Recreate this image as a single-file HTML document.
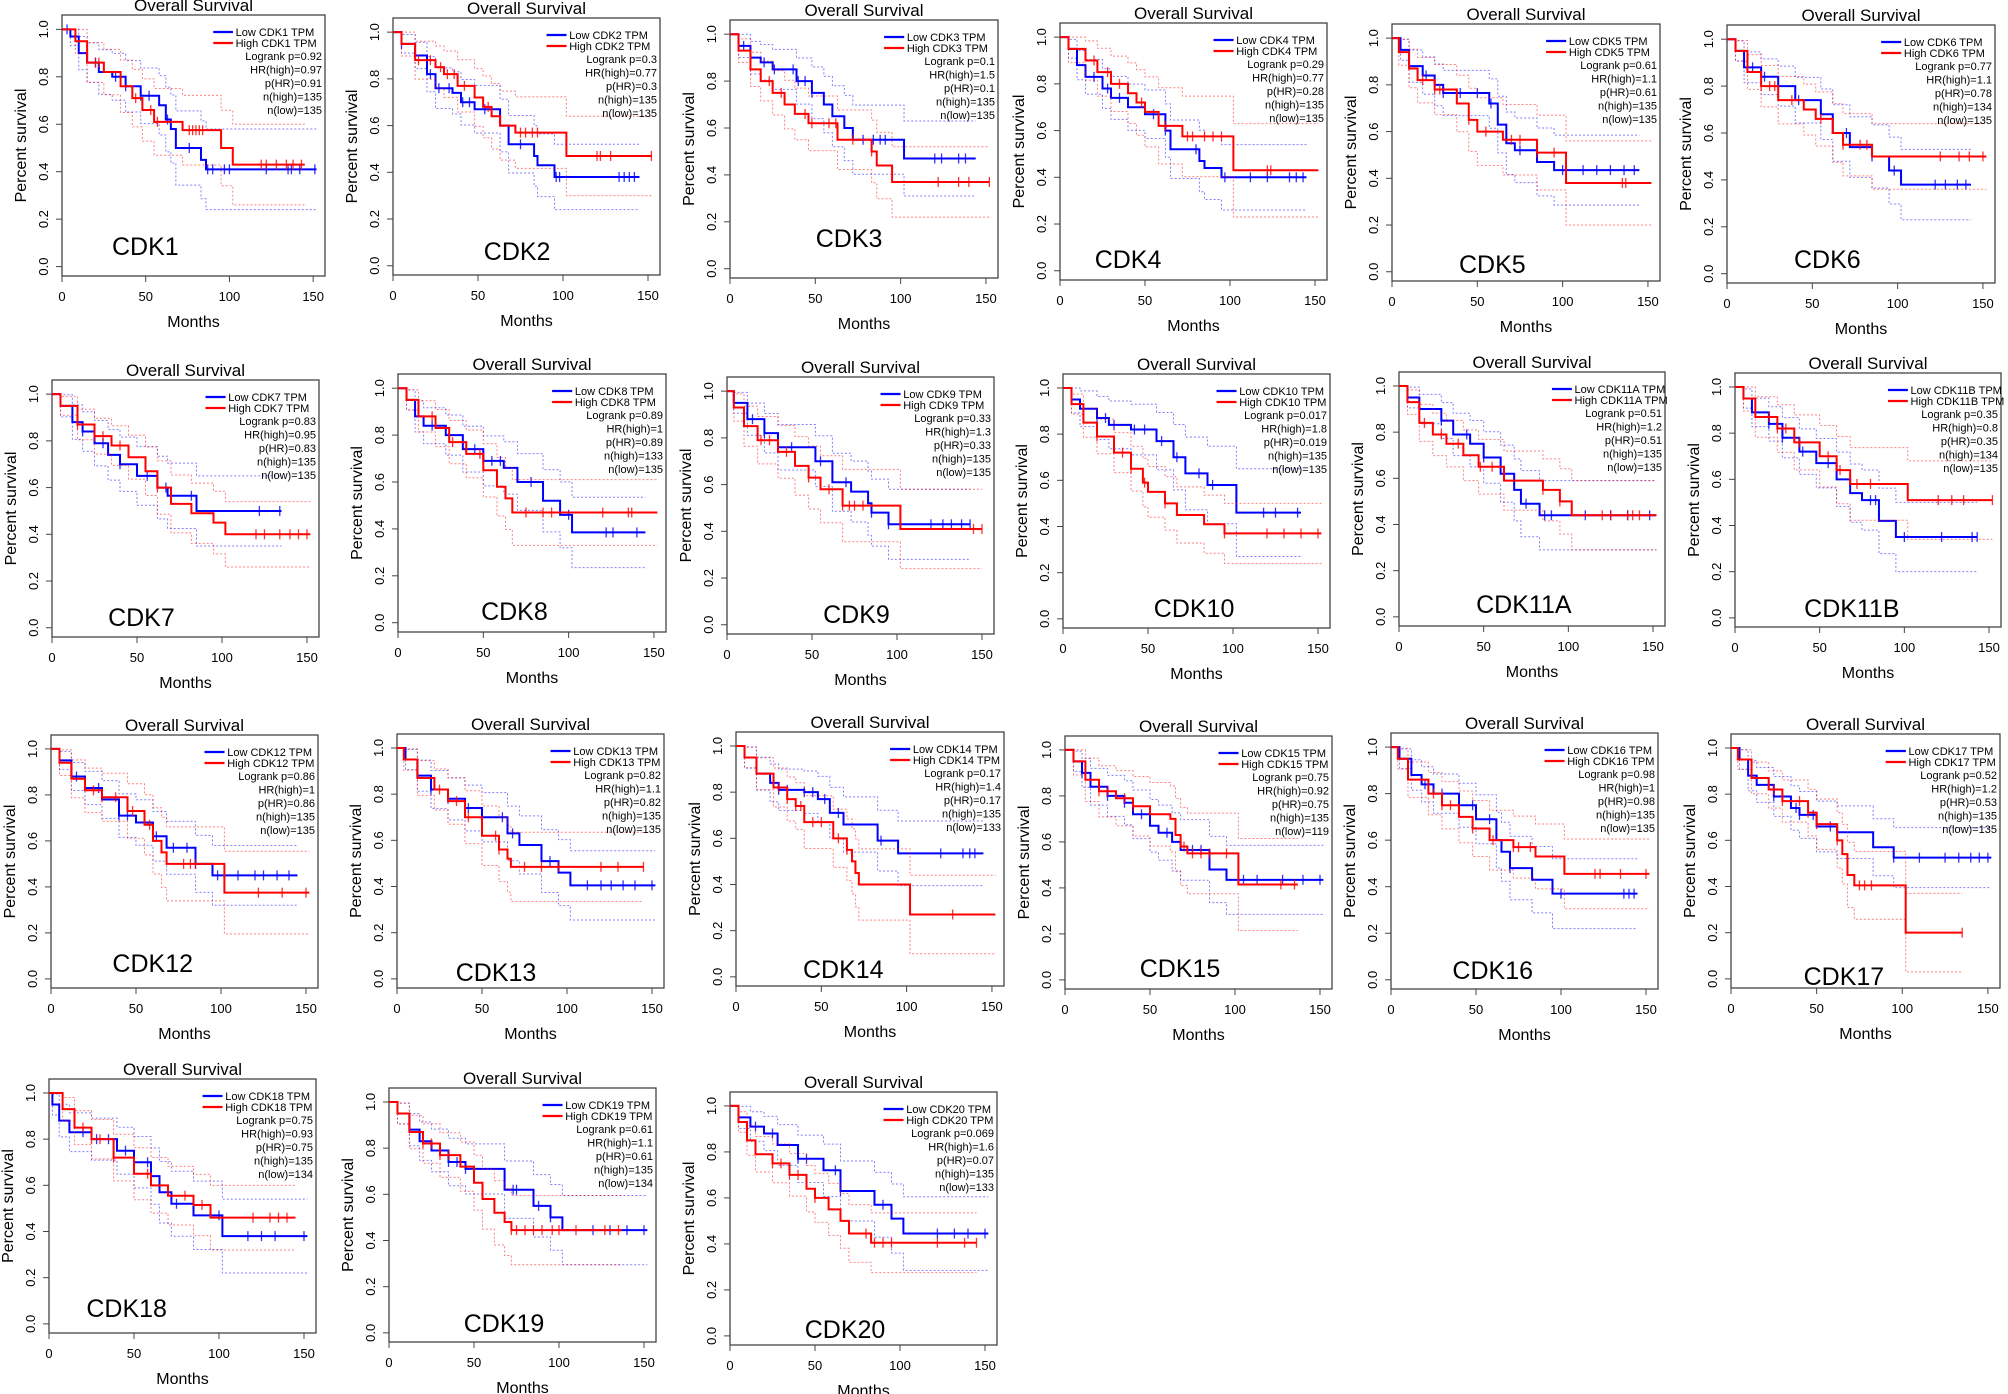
<!DOCTYPE html>
<html><head><meta charset="utf-8">
<style>
html,body{margin:0;padding:0;background:#fff;}
svg{display:block;}
text{font-family:"Liberation Sans",sans-serif;fill:#000;}
.narrow{font-family:"Liberation Sans Narrow","Liberation Sans",sans-serif;}
</style></head>
<body>
<svg id="fig" width="2008" height="1394" viewBox="0 0 2008 1394" xmlns="http://www.w3.org/2000/svg">
<rect x="0" y="0" width="2008" height="1394" fill="#fff"/>
</svg>
<script>
// ---- data ----
const genes = ["CDK1","CDK2","CDK3","CDK4","CDK5","CDK6","CDK7","CDK8","CDK9","CDK10","CDK11A","CDK11B","CDK12","CDK13","CDK14","CDK15","CDK16","CDK17","CDK18","CDK19","CDK20"];
const logrankP = ["0.92","0.3","0.1","0.29","0.61","0.77","0.83","0.89","0.33","0.017","0.51","0.35","0.86","0.82","0.17","0.75","0.98","0.52","0.75","0.61","0.069"];
const hrHigh = ["0.97","0.77","1.5","0.77","1.1","1.1","0.95","1","1.3","1.8","1.2","0.8","1","1.1","1.4","0.92","1","1.2","0.93","1.1","1.6"];
const pHR = ["0.91","0.3","0.1","0.28","0.61","0.78","0.83","0.89","0.33","0.019","0.51","0.35","0.86","0.82","0.17","0.75","0.98","0.53","0.75","0.61","0.07"];
const nHigh = [135,135,135,135,135,134,135,133,135,135,135,134,135,135,135,135,135,135,135,135,135];
const nLow = [135,135,135,135,135,135,135,135,135,135,135,135,135,135,133,119,135,135,134,134,133];

const lowTimes = [
 [5,10,15,22,30,38,47,58,62,65,68,83,86],
 [5,13,20,25,35,40,48,63,68,83,85,95],
 [5,12,18,25,39,48,55,60,67,72,102],
 [5,10,15,25,30,40,50,62,65,82,85,95],
 [5,10,18,25,30,57,62,67,72,85,95],
 [5,10,20,30,40,55,62,72,85,95,102],
 [5,12,18,25,33,40,50,62,68,85],
 [5,10,15,28,38,50,62,70,85,95,102],
 [4,12,22,30,52,62,73,83,85,95],
 [5,10,20,27,40,55,65,72,85,102],
 [5,12,25,32,42,50,60,68,72,83],
 [5,10,20,28,38,48,60,68,75,85,95],
 [5,12,20,30,40,50,60,68,85,95],
 [5,12,20,30,40,50,65,72,85,95,102],
 [5,12,20,25,40,48,55,63,83,95],
 [5,10,15,25,35,40,50,55,63,68,85,95],
 [5,12,18,25,40,50,62,65,70,83,95],
 [5,10,15,25,35,40,50,62,83,95],
 [2,6,12,25,40,50,60,65,72,85,102],
 [5,12,18,25,35,45,68,85,95,102],
 [5,12,20,28,40,55,65,85,95,102]
];
const lowSurv = [
 [0.97,0.9,0.86,0.82,0.8,0.76,0.72,0.68,0.62,0.58,0.5,0.45,0.41],
 [0.95,0.9,0.82,0.76,0.74,0.7,0.67,0.6,0.52,0.47,0.43,0.38],
 [0.95,0.9,0.88,0.85,0.8,0.75,0.7,0.65,0.6,0.55,0.47],
 [0.95,0.88,0.83,0.78,0.74,0.7,0.67,0.6,0.52,0.47,0.44,0.4],
 [0.95,0.88,0.84,0.8,0.765,0.72,0.63,0.55,0.52,0.47,0.435],
 [0.95,0.88,0.84,0.8,0.74,0.68,0.6,0.54,0.5,0.44,0.38],
 [0.95,0.88,0.84,0.79,0.74,0.7,0.65,0.6,0.565,0.5],
 [0.95,0.88,0.84,0.8,0.74,0.69,0.66,0.6,0.52,0.46,0.385],
 [0.95,0.88,0.82,0.76,0.7,0.61,0.57,0.52,0.48,0.43],
 [0.95,0.91,0.87,0.84,0.82,0.77,0.7,0.63,0.58,0.46],
 [0.95,0.9,0.85,0.79,0.75,0.69,0.62,0.55,0.49,0.44],
 [0.95,0.89,0.84,0.78,0.72,0.67,0.6,0.54,0.51,0.42,0.35],
 [0.95,0.88,0.83,0.78,0.71,0.68,0.62,0.57,0.5,0.45],
 [0.95,0.88,0.82,0.78,0.74,0.7,0.63,0.58,0.51,0.46,0.405],
 [0.95,0.88,0.84,0.81,0.8,0.77,0.71,0.66,0.59,0.535],
 [0.95,0.9,0.84,0.8,0.77,0.72,0.67,0.64,0.6,0.565,0.48,0.435],
 [0.95,0.88,0.84,0.8,0.75,0.69,0.6,0.55,0.48,0.43,0.37],
 [0.95,0.88,0.84,0.79,0.74,0.71,0.66,0.635,0.57,0.525],
 [0.95,0.88,0.83,0.8,0.75,0.7,0.64,0.57,0.52,0.47,0.38],
 [0.95,0.88,0.83,0.79,0.74,0.71,0.62,0.55,0.5,0.445],
 [0.95,0.91,0.88,0.83,0.77,0.72,0.63,0.57,0.51,0.445]
];
const lowEnd = [152,145,144,145,145,143,135,145,143,140,152,143,145,152,145,152,145,152,152,152,152];
const highTimes = [
 [8,15,25,35,42,48,55,72,95,102],
 [5,13,25,30,38,48,53,58,63,72,102],
 [5,12,18,25,32,38,46,63,83,86,95],
 [5,15,22,30,40,45,50,58,72,102],
 [4,10,15,25,38,45,50,65,85,102],
 [5,12,20,30,45,52,62,68,85],
 [5,15,25,35,45,55,62,70,82,95,102],
 [5,12,22,30,40,50,58,63,67],
 [4,10,18,30,40,48,55,68,102],
 [5,12,20,30,40,47,50,60,67,83,95],
 [5,12,20,28,38,47,62,85,95,102],
 [5,12,25,35,50,60,68,102],
 [5,12,20,30,45,55,60,65,68,102],
 [4,12,22,30,40,50,60,65,67],
 [5,12,22,30,35,40,57,65,68,70,72,102],
 [5,12,20,30,40,50,62,65,68,72,102],
 [4,10,22,30,40,48,58,72,85,102],
 [4,12,22,30,45,50,62,65,68,72,102],
 [8,15,25,38,50,60,70,85,95],
 [5,12,20,30,42,50,55,62,68,72],
 [5,10,15,25,35,45,50,58,65,70,83]
];
const highSurv = [
 [0.95,0.86,0.82,0.76,0.71,0.66,0.61,0.575,0.5,0.43],
 [0.95,0.88,0.85,0.82,0.77,0.72,0.68,0.64,0.6,0.57,0.47],
 [0.93,0.85,0.8,0.75,0.7,0.66,0.62,0.55,0.5,0.44,0.37],
 [0.95,0.9,0.85,0.8,0.76,0.72,0.68,0.62,0.575,0.43],
 [0.94,0.87,0.82,0.78,0.72,0.65,0.6,0.565,0.51,0.38],
 [0.95,0.86,0.8,0.74,0.7,0.66,0.6,0.55,0.5],
 [0.95,0.87,0.82,0.78,0.73,0.67,0.6,0.53,0.49,0.45,0.4],
 [0.95,0.88,0.83,0.77,0.72,0.65,0.58,0.53,0.47],
 [0.93,0.85,0.79,0.74,0.68,0.63,0.58,0.51,0.41],
 [0.93,0.85,0.79,0.72,0.65,0.59,0.55,0.5,0.45,0.41,0.37],
 [0.93,0.84,0.79,0.75,0.7,0.65,0.59,0.55,0.5,0.44],
 [0.95,0.87,0.82,0.76,0.7,0.64,0.58,0.51],
 [0.94,0.87,0.82,0.79,0.73,0.67,0.6,0.55,0.5,0.375],
 [0.95,0.87,0.82,0.77,0.7,0.62,0.56,0.52,0.485],
 [0.95,0.88,0.82,0.77,0.74,0.67,0.6,0.55,0.5,0.45,0.4,0.27],
 [0.95,0.87,0.82,0.79,0.755,0.72,0.7,0.63,0.58,0.55,0.415],
 [0.95,0.86,0.8,0.75,0.7,0.65,0.6,0.57,0.53,0.455],
 [0.95,0.87,0.82,0.77,0.72,0.67,0.6,0.54,0.45,0.405,0.2],
 [0.93,0.85,0.8,0.72,0.65,0.6,0.555,0.515,0.46],
 [0.95,0.87,0.82,0.77,0.72,0.65,0.58,0.52,0.48,0.445],
 [0.93,0.85,0.79,0.75,0.7,0.64,0.6,0.55,0.5,0.445,0.405]
];
const highEnd = [145,152,152,152,152,152,152,152,150,152,152,152,152,145,152,137,152,135,145,137,145];
const lowCiEnd = [0.17,0.14,0.16,0.14,0.15,0.15,0.15,0.15,0.15,0.19,0.15,0.15,0.13,0.15,0.14,0.15,0.15,0.13,0.16,0.15,0.16];
const highCiEnd = [0.17,0.17,0.15,0.2,0.18,0.14,0.14,0.14,0.17,0.13,0.15,0.17,0.18,0.15,0.17,0.2,0.15,0.17,0.14,0.15,0.13];
const lowCens = [
 [3,20,32,38,47,52,63,76,87,90,97,100,122,135,137,142,151],
 [5,22,27,33,41,45,54,75,96,98,133,136,139,142],
 [8,20,26,37,40,44,48,78,84,88,91,120,124,134,138],
 [20,28,35,55,62,80,97,112,122,135,139,143],
 [20,30,40,50,58,75,100,112,120,128,136,142],
 [15,22,30,42,55,70,85,98,122,128,135,140],
 [18,30,40,56,67,82,122,134],
 [20,30,45,55,60,78,100,122,126,140],
 [15,22,38,55,70,85,95,120,127,132,138,143],
 [20,25,30,42,48,58,67,80,88,118,125,138],
 [12,25,40,50,62,75,86,90,110,125,135,148],
 [20,28,40,55,80,83,100,122,140,143],
 [15,28,40,45,62,72,80,85,98,110,120,125,133,140],
 [20,30,42,50,62,68,90,112,120,126,133,140,150],
 [25,30,40,45,52,60,85,120,133,137,140],
 [10,25,35,45,60,75,80,105,113,128,140,150],
 [20,30,40,48,58,70,100,137,140,143],
 [25,38,40,48,58,62,95,110,125,133,140,145,150],
 [20,28,35,45,58,75,100,117,125,133,150],
 [35,40,45,73,75,88,95,120,130,140,150],
 [15,25,40,45,62,65,90,122,132,140,150]
];
const highCens = [
 [20,22,44,53,57,76,78,80,82,84,119,122,128,134,138,143],
 [15,22,28,32,36,42,56,75,78,82,85,120,122,128,152],
 [23,30,44,48,58,62,72,83,122,134,140,152],
 [20,28,35,48,62,75,78,85,90,95,122,124],
 [18,25,28,45,55,70,75,85,95,135,137],
 [20,25,28,38,55,68,78,82,125,136,142,150],
 [15,25,30,40,62,120,125,134,140,145,150],
 [20,32,48,75,85,90,120,135,137],
 [20,25,35,48,60,68,72,75,80,145,150],
 [20,35,40,48,60,95,120,130,140,150],
 [15,25,35,48,55,85,95,120,125,135,138,142],
 [20,25,30,38,55,62,72,80,120,128,135,152],
 [25,30,38,48,58,78,82,85,122,136,150],
 [25,35,42,58,60,75,85,95,120,130,145],
 [25,30,35,38,45,50,60,65,127],
 [20,25,35,40,70,75,80,85,95,127,135],
 [25,30,35,48,60,72,75,82,120,123,135,150],
 [25,30,40,45,50,62,75,78,82,135],
 [20,25,30,38,58,80,90,120,130,135,140],
 [20,25,30,35,72,75,80,85,90,96,100,110,127,135],
 [25,30,35,40,50,80,85,90,95,122,138,145]
];

// ---- layout (box positions in px) ----
const boxes = [
 [62,15,263,261],[393,18,267,257],[730,20,268,258],[1060,23,267,257],[1392,24,268,257],[1727,25,268,258],
 [52,380,267,257],[398,374,268,258],[727,377,267,257],[1063,374,267,254],[1399,372,266,254],[1735,373,266,254],
 [51,735,267,253],[397,734,267,254],[736,732,268,254],[1065,736,267,253],[1391,733,267,256],[1731,734,269,254],
 [49,1079,267,254],[389,1088,267,254],[730,1092,267,253]
];
const labelPos = [
 [0.19,21],[0.34,15],[0.32,31],[0.13,12],[0.25,8],[0.25,15],
 [0.21,11],[0.31,12],[0.36,11],[0.34,11],[0.29,13],[0.26,10],
 [0.23,16],[0.22,7],[0.25,8],[0.28,12],[0.23,10],[0.27,3],
 [0.14,16],[0.28,10],[0.28,7]
];
const xTicks = [0,50,100,150];
const yTicks = [0,0.2,0.4,0.6,0.8,1.0];
const yTickLabels = ["0.0","0.2","0.4","0.6","0.8","1.0"];

const NS = "http://www.w3.org/2000/svg";
const svg = document.getElementById("fig");
function mk(tag, attrs, parent){
  const e = document.createElementNS(NS, tag);
  for (const k in attrs) e.setAttribute(k, attrs[k]);
  (parent||svg).appendChild(e);
  return e;
}
const BLUE = "#0000ff", RED = "#ff0000";

function stepAt(times, surv, t){
  let s = 1;
  for (let i=0;i<times.length;i++){ if (times[i] <= t) s = surv[i]; }
  return s;
}

genes.forEach((g, p) => {
  const [bx, by, bw, bh] = boxes[p];
  const xs = t => bx + (t/150) * bw * 0.955;
  const ys = s => by + bh*0.055 + (1 - s) * bh * (0.964 - 0.055);
  const grp = mk("g", {});
  
  

  const box = mk("rect", {x:bx, y:by, width:bw, height:bh, fill:"none", stroke:"#444", "stroke-width":1.3}, grp);
  
  

  const title = mk("text", {x:bx+bw/2, y:by-4, "text-anchor":"middle", "font-size":17}, grp);
  title.textContent = "Overall Survival";
  
  

  xTicks.forEach(t => {
    const tk = mk("line", {x1:xs(t), x2:xs(t), y1:by+bh, y2:by+bh+6, stroke:"#444", "stroke-width":1}, grp);
    
    
    const tl = mk("text", {x:xs(t), y:by+bh+25, "text-anchor":"middle", "font-size":13}, grp);
    tl.textContent = t;
    
    
  });
  const xl = mk("text", {x:bx+bw/2, y:by+bh+51, "text-anchor":"middle", "font-size":16}, grp);
  xl.textContent = "Months";
  
  

  yTicks.forEach((v,i) => {
    const tk = mk("line", {x1:bx-6, x2:bx, y1:ys(v), y2:ys(v), stroke:"#444", "stroke-width":1}, grp);
    
    
    const tl = mk("text", {x:0, y:0, "text-anchor":"middle", "font-size":13, transform:`translate(${bx-14},${ys(v)}) rotate(-90)`}, grp);
    tl.textContent = yTickLabels[i];
    
    
  });
  const yl = mk("text", {x:0, y:0, "text-anchor":"middle", "font-size":16, transform:`translate(${bx-36},${by+bh/2}) rotate(-90)`}, grp);
  yl.textContent = "Percent survival";
  
  

  const series = [
    {t:lowTimes[p], s:lowSurv[p], end:lowEnd[p], ci:lowCiEnd[p], cens:lowCens[p], col:BLUE, name:"low"},
    {t:highTimes[p], s:highSurv[p], end:highEnd[p], ci:highCiEnd[p], cens:highCens[p], col:RED, name:"high"}
  ];
  series.forEach(sr => {
    const sEnd = sr.s[sr.s.length-1];
    [1,-1].forEach(sign => {
      let d = `M${xs(0)},${ys(1)}`;
      sr.t.forEach((t,i) => {
        const w = sr.ci * Math.sqrt((1-sr.s[i])/(1-sEnd));
        const v = Math.max(0, Math.min(1, sr.s[i] + sign*w));
        d += ` H${xs(t)} V${ys(v)}`;
      });
      d += ` H${xs(sr.end)}`;
      const ci = mk("path", {d:d, fill:"none", stroke:sr.col, "stroke-width":1, "stroke-dasharray":"2,2", opacity:0.5}, grp);
      
      
    });
    let d = `M${xs(0)},${ys(1)}`;
    sr.t.forEach((t,i) => { d += ` H${xs(t)} V${ys(sr.s[i])}`; });
    d += ` H${xs(sr.end)}`;
    const ln = mk("path", {d:d, fill:"none", stroke:sr.col, "stroke-width":2}, grp);
    
    
    sr.cens.forEach(t => {
      const y = ys(stepAt(sr.t, sr.s, t));
      const c = mk("line", {x1:xs(t), x2:xs(t), y1:y-5, y2:y+5, stroke:sr.col, "stroke-width":1.3, opacity:0.8}, grp);
      
      
    });
  });

  const lx1 = bx + bw*0.575, lx2 = bx + bw*0.65, tx = bx + bw*0.66;
  [["Low "+g+" TPM", BLUE, 17], ["High "+g+" TPM", RED, 28]].forEach(([lab,col,dy],i) => {
    const l = mk("line", {x1:lx1, x2:lx2, y1:by+dy, y2:by+dy, stroke:col, "stroke-width":2.2}, grp);
    
    
    const tt = mk("text", {x:tx, y:by+dy+4, "font-size":11, class:"narrow"}, grp);
    tt.textContent = lab;
    
    
  });
  const stats = ["Logrank p="+logrankP[p], "HR(high)="+hrHigh[p], "p(HR)="+pHR[p], "n(high)="+nHigh[p], "n(low)="+nLow[p]];
  stats.forEach((s,i) => {
    const st = mk("text", {x:bx+bw-3, y:by+45+i*13.5, "text-anchor":"end", "font-size":11, class:"narrow"}, grp);
    st.textContent = s;
    
    
  });

  const gl = mk("text", {x:bx + bw*labelPos[p][0], y:by+bh-labelPos[p][1], "font-size":25, class:"narrow"}, grp);
  gl.textContent = g;
  
  
});
</script>
</body></html>
